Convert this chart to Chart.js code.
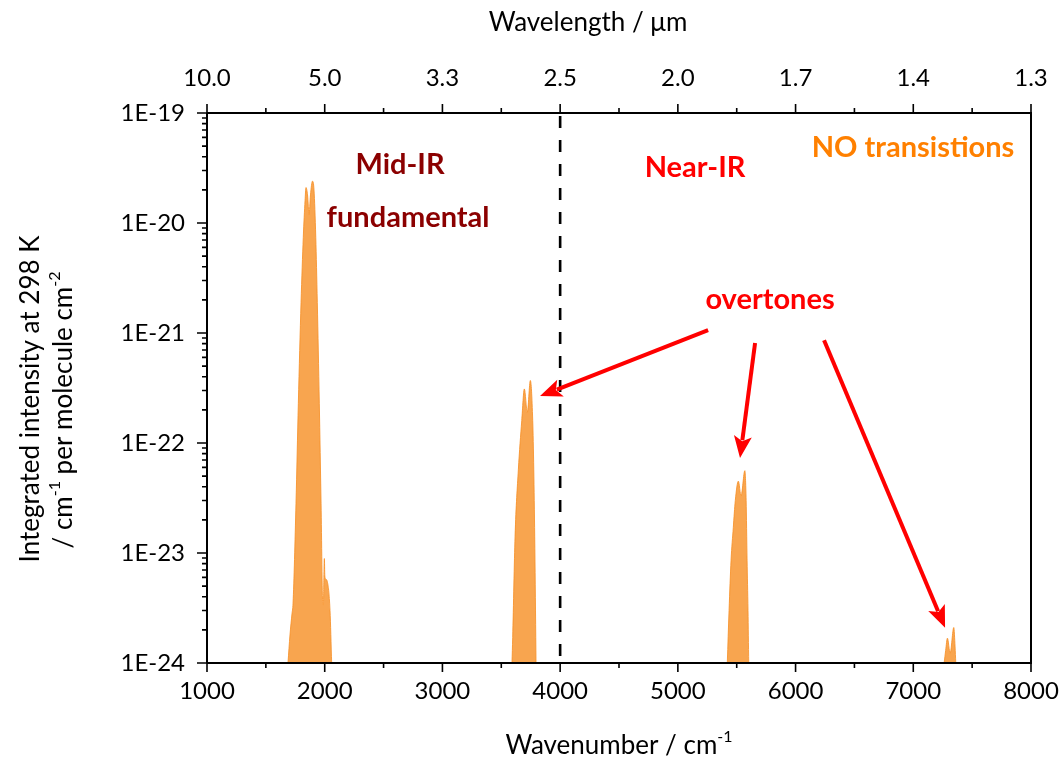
<!DOCTYPE html>
<html><head><meta charset="utf-8">
<script src="https://cdn.jsdelivr.net/npm/chart.js@4.4.0/dist/chart.umd.min.js"></script>
<style>html,body{margin:0;padding:0;background:#fff;}#wrap{width:1063px;height:760px;position:relative}</style>
</head><body><div id="wrap"><canvas id="c"></canvas></div>
<script>
// ---- data ----
const fundamentalWn  = [1688,1705,1722,1731,1756,1776,1799,1818,1833,1841,1854,1867,1879,1896,1909,1924,1937,1954,1969,1983,1989,1993,1997,2001,2008,2022,2045,2059];
const fundamentalInt = [1e-24,1.8e-24,2.8e-24,3.5e-24,2.8e-23,2.3e-22,1.9e-21,7.4e-21,1.6e-20,2.1e-20,1.8e-20,1.2e-20,1.8e-20,2.4e-20,2.0e-20,7.4e-21,1.9e-21,2.3e-22,2.8e-23,3.5e-24,3.4e-24,6.0e-24,8.9e-24,6.2e-24,5.8e-24,5.5e-24,3.0e-24,1e-24];
const overtone1Wn  = [3591,3597,3617,3645,3674,3696,3721,3747,3767,3776,3784,3793,3795];
const overtone1Int = [1e-24,1.7e-24,1.4e-23,5.7e-23,1.6e-22,3.1e-22,1.9e-22,3.7e-22,1.6e-22,5.7e-23,1.4e-23,1.7e-24,1e-24];
const overtone2Wn  = [5420,5435,5452,5471,5488,5514,5537,5569,5580,5588,5596,5602];
const overtone2Int = [1e-24,3.0e-24,8.6e-24,1.7e-23,3.0e-23,4.5e-23,3.3e-23,5.6e-23,3.0e-23,8.6e-24,3.0e-24,1e-24];
const overtone3Wn  = [7262,7275,7290,7313,7344,7355,7361];
const overtone3Int = [1e-24,1.3e-24,1.68e-24,1.23e-24,2.1e-24,1.4e-24,1e-24];

const xTickValues   = [1000,2000,3000,4000,5000,6000,7000,8000];
const xTickLabels   = ['1000','2000','3000','4000','5000','6000','7000','8000'];
const xMinorValues  = [1500,2500,3500,4500,5500,6500,7500];
const topTickLabels = ['10.0','5.0','3.3','2.5','2.0','1.7','1.4','1.3'];
const yTickValues   = [1e-24,1e-23,1e-22,1e-21,1e-20,1e-19];
const yTickLabels   = ['1E-24','1E-23','1E-22','1E-21','1E-20','1E-19'];
const divider = 4000;

// annotations in data coordinates
const labelsText = [
  {t:'Mid-IR', x:2640, y:3.37e-20, c:'#8B0000'},
  {t:'fundamental', x:2708, y:1.11e-20, c:'#8B0000'},
  {t:'Near-IR', x:5146, y:3.2e-20, c:'#FF0000'},
  {t:'NO transistions', x:6998, y:4.8e-20, c:'#FF8000'},
  {t:'overtones', x:5783, y:2.0e-21, c:'#FF0000'}
];
const arrows = [
  {x0:5257, y0:1.06e-21, x1:3829, y1:2.67e-22},
  {x0:5656, y0:8.1e-22, x1:5528, y1:7.3e-23},
  {x0:6242, y0:8.6e-22, x1:7270, y1:2.09e-24}
];

const FONT = 'Lato, "Open Sans", sans-serif';
function band(wn, val){
  return {data: wn.map((x,i)=>({x:x, y:val[i]})), borderColor:'rgba(247,145,40,0.85)', borderWidth:1,
          backgroundColor:'rgba(247,145,40,0.82)', fill:'start', pointRadius:0, cubicInterpolationMode:'monotone'};
}

function supText(ctx, parts, x, y, size, align){
  let w = 0;
  parts.forEach(p=>{ ctx.font = (p[1]? Math.round(size*0.6):size)+'px '+FONT; w += ctx.measureText(p[0]).width; });
  let cx = align==='center' ? x - w/2 : x;
  ctx.textAlign='left'; ctx.textBaseline='alphabetic';
  parts.forEach(p=>{
    const s = p[1]? Math.round(size*0.6):size;
    ctx.font = s+'px '+FONT;
    ctx.fillText(p[0], cx, p[1]? y - size*0.45 : y);
    cx += ctx.measureText(p[0]).width;
  });
}

const deco = {
  id:'deco',
  afterDraw(chart){
    const ctx = chart.ctx, a = chart.chartArea;
    const xs = chart.scales.x, ys = chart.scales.y;
    ctx.save();
    ctx.strokeStyle='#000'; ctx.lineWidth=2;
    ctx.beginPath(); ctx.moveTo(a.right, a.top-1); ctx.lineTo(a.right, a.bottom+1); ctx.stroke();
    ctx.beginPath(); ctx.moveTo(a.left, a.top); ctx.lineTo(a.right, a.top); ctx.moveTo(a.left, a.bottom); ctx.lineTo(a.right, a.bottom);
    ctx.moveTo(a.left, a.top); ctx.lineTo(a.left, a.bottom); ctx.stroke();
    ctx.lineWidth=1.6;
    ctx.beginPath();
    xTickValues.forEach(v=>{ const p = xs.getPixelForValue(v);
      ctx.moveTo(p, a.bottom); ctx.lineTo(p, a.bottom+9);
      ctx.moveTo(p, a.top); ctx.lineTo(p, a.top-9); });
    xMinorValues.forEach(v=>{ const p = xs.getPixelForValue(v);
      ctx.moveTo(p, a.bottom); ctx.lineTo(p, a.bottom+5);
      ctx.moveTo(p, a.top); ctx.lineTo(p, a.top-5); });
    yTickValues.forEach((v,i)=>{ const p = ys.getPixelForValue(v);
      ctx.moveTo(a.left-10, p); ctx.lineTo(a.left, p);
      if(i < yTickValues.length-1){
        for(let k=2;k<=9;k++){ const q = ys.getPixelForValue(v*k); ctx.moveTo(a.left-5, q); ctx.lineTo(a.left, q); }
      }
    });
    ctx.stroke();
    const dx = xs.getPixelForValue(divider);
    ctx.setLineDash([12,12]); ctx.lineWidth=2.6;
    ctx.beginPath(); ctx.moveTo(dx, a.top+3); ctx.lineTo(dx, a.bottom); ctx.stroke();
    ctx.setLineDash([]);
    ctx.strokeStyle='#FF0000'; ctx.fillStyle='#FF0000'; ctx.lineWidth=4;
    arrows.forEach(r=>{
      const x0=xs.getPixelForValue(r.x0), y0=ys.getPixelForValue(r.y0), x1=xs.getPixelForValue(r.x1), y1=ys.getPixelForValue(r.y1);
      const ang=Math.atan2(y1-y0,x1-x0), L=22, W=9;
      const bx=x1-L*Math.cos(ang), by=y1-L*Math.sin(ang);
      ctx.beginPath(); ctx.moveTo(x0,y0); ctx.lineTo(bx+4*Math.cos(ang), by+4*Math.sin(ang)); ctx.stroke();
      ctx.beginPath(); ctx.moveTo(x1,y1);
      ctx.lineTo(bx - W*Math.sin(ang), by + W*Math.cos(ang));
      ctx.lineTo(bx + 5*Math.cos(ang), by + 5*Math.sin(ang));
      ctx.lineTo(bx + W*Math.sin(ang), by - W*Math.cos(ang));
      ctx.closePath(); ctx.fill();
    });
    ctx.textAlign='center'; ctx.textBaseline='middle';
    labelsText.forEach(l=>{ ctx.fillStyle=l.c; ctx.font='bold 29px '+FONT;
      ctx.fillText(l.t, xs.getPixelForValue(l.x), ys.getPixelForValue(l.y)); });
    ctx.fillStyle='#000';
    supText(ctx, [['Wavenumber / cm',false],['-1',true]], (a.left+a.right)/2, 754, 26, 'center');
    ctx.font='26px '+FONT; ctx.textAlign='center'; ctx.textBaseline='alphabetic';
    ctx.fillText('Wavelength / \u03BCm', 588, 31);
    ctx.save(); ctx.translate(39, 399); ctx.rotate(-Math.PI/2);
    ctx.font='26px '+FONT; ctx.textAlign='center'; ctx.fillText('Integrated intensity at 298 K', 0, 0);
    ctx.restore();
    ctx.save(); ctx.translate(72, 410); ctx.rotate(-Math.PI/2);
    supText(ctx, [['/ cm',false],['-1',true],[' per molecule cm',false],['-2',true]], 0, 0, 26, 'center');
    ctx.restore();
    ctx.restore();
  }
};

const tickFont = {family: FONT, size: 24};
function noPad(s){ s.paddingLeft = 0; s.paddingRight = 0; }
new Chart(document.getElementById('c'), {
  type:'line',
  data:{datasets:[band(fundamentalWn,fundamentalInt), band(overtone1Wn,overtone1Int), band(overtone2Wn,overtone2Int), band(overtone3Wn,overtone3Int)]},
  options:{
    responsive:true, maintainAspectRatio:false, animation:false, events:[],
    layout:{padding:{left:0,right:32,top:0,bottom:0}},
    plugins:{legend:{display:false}, tooltip:{enabled:false}},
    scales:{
      x:{type:'linear', position:'bottom', min:1000, max:8000,
         afterBuildTicks:s=>{s.ticks = xTickValues.map(v=>({value:v}));},
         ticks:{callback:(v,i)=>xTickLabels[i], font:tickFont, color:'#000', padding:14, maxRotation:0, autoSkip:false},
         grid:{drawOnChartArea:false, drawTicks:false}, border:{display:false},
         afterFit:s=>{s.height=97; noPad(s);}},
      x2:{type:'linear', position:'top', min:1000, max:8000,
         afterBuildTicks:s=>{s.ticks = xTickValues.map(v=>({value:v}));},
         ticks:{callback:(v,i)=>topTickLabels[i], font:tickFont, color:'#000', padding:20, maxRotation:0, autoSkip:false},
         grid:{drawOnChartArea:false, drawTicks:false}, border:{display:false},
         afterFit:s=>{s.height=113; noPad(s);}},
      y:{type:'logarithmic', position:'left', min:1e-24, max:1e-19,
         afterBuildTicks:s=>{s.ticks = yTickValues.map(v=>({value:v}));},
         ticks:{callback:(v,i)=>yTickLabels[i], font:tickFont, color:'#000', padding:22, autoSkip:false},
         grid:{drawOnChartArea:false, drawTicks:false}, border:{display:false},
         afterFit:s=>{s.width=207; s.paddingTop=0; s.paddingBottom=0;}}
    }
  },
  plugins:[deco]
});
</script></body></html>
